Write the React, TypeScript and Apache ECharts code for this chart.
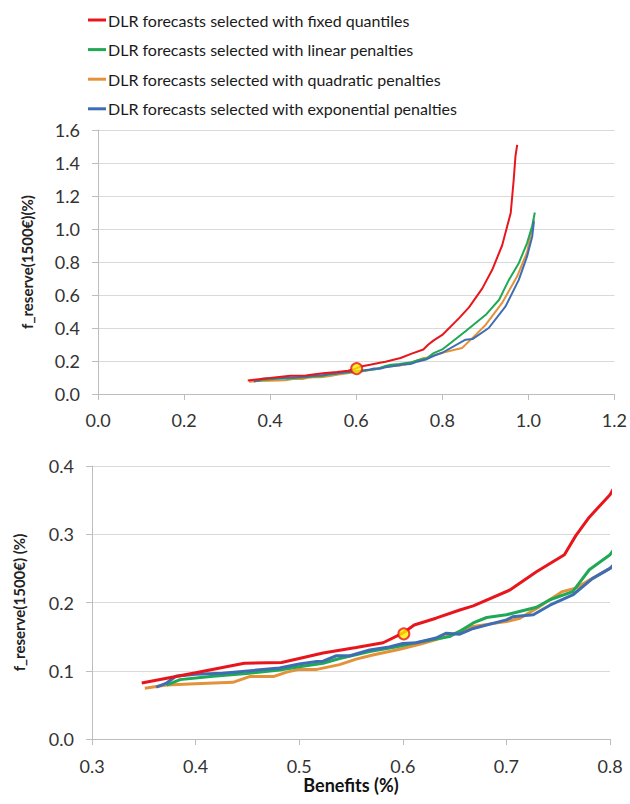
import React, { useEffect, useRef } from "react";
import * as echarts from "echarts";

const SERIES_NAMES = [
  "DLR forecasts selected with fixed quantiles",
  "DLR forecasts selected with linear penalties",
  "DLR forecasts selected with quadratic penalties",
  "DLR forecasts selected with exponential penalties",
];
const SERIES_COLORS = ["#E8161C", "#1FA855", "#E39239", "#3F6DB3"];

const fixedQuantiles: [number, number][] = [
  [0.348, 0.082], [0.4, 0.097], [0.447, 0.111], [0.483, 0.112], [0.5, 0.118],
  [0.523, 0.126], [0.555, 0.134], [0.581, 0.141], [0.6, 0.155], [0.611, 0.167],
  [0.632, 0.177], [0.655, 0.189], [0.668, 0.195], [0.703, 0.218], [0.729, 0.245],
  [0.756, 0.27], [0.767, 0.298], [0.78, 0.325], [0.8, 0.358], [0.839, 0.46],
  [0.862, 0.525], [0.893, 0.64], [0.916, 0.753], [0.939, 0.9], [0.959, 1.097],
  [0.966, 1.3], [0.97, 1.44], [0.974, 1.51],
];

const linearPenalties: [number, number][] = [
  [0.372, 0.079], [0.385, 0.087], [0.417, 0.092], [0.449, 0.096], [0.481, 0.101],
  [0.5, 0.106], [0.523, 0.111], [0.539, 0.118], [0.568, 0.128], [0.594, 0.135],
  [0.619, 0.143], [0.645, 0.15], [0.655, 0.158], [0.668, 0.17], [0.681, 0.178],
  [0.7, 0.182], [0.729, 0.193], [0.742, 0.204], [0.764, 0.216], [0.78, 0.248],
  [0.8, 0.27], [0.854, 0.38], [0.901, 0.48], [0.932, 0.571], [0.955, 0.693],
  [0.978, 0.794], [0.997, 0.915], [1.009, 1.02], [1.015, 1.1],
];

const quadraticPenalties: [number, number][] = [
  [0.351, 0.0745], [0.372, 0.079], [0.4, 0.081], [0.436, 0.083], [0.452, 0.0915],
  [0.475, 0.0915], [0.488, 0.098], [0.5, 0.102], [0.517, 0.102], [0.539, 0.109],
  [0.555, 0.117], [0.571, 0.123], [0.597, 0.1315], [0.619, 0.14], [0.642, 0.15],
  [0.655, 0.157], [0.668, 0.165], [0.7, 0.172], [0.713, 0.177], [0.732, 0.194],
  [0.754, 0.216], [0.767, 0.221], [0.78, 0.233], [0.8, 0.25], [0.846, 0.279],
  [0.862, 0.319], [0.878, 0.36], [0.901, 0.42], [0.939, 0.552], [0.974, 0.713],
  [0.997, 0.86], [1.013, 1.06],
];

const exponentialPenalties: [number, number][] = [
  [0.362, 0.076], [0.372, 0.082], [0.381, 0.092], [0.4, 0.095], [0.426, 0.0965],
  [0.459, 0.101], [0.481, 0.104], [0.5, 0.11], [0.517, 0.1135], [0.523, 0.114],
  [0.536, 0.122], [0.549, 0.122], [0.568, 0.1305], [0.587, 0.135], [0.6, 0.14],
  [0.613, 0.141], [0.632, 0.148], [0.642, 0.155], [0.655, 0.1535], [0.668, 0.162],
  [0.7, 0.1745], [0.706, 0.179], [0.726, 0.182], [0.742, 0.196], [0.764, 0.211],
  [0.783, 0.235], [0.8, 0.25], [0.854, 0.329], [0.87, 0.333], [0.908, 0.4],
  [0.947, 0.531], [0.978, 0.693], [0.997, 0.834], [1.009, 0.955], [1.013, 1.046],
];

const selectedPoint: [number, number][] = [[0.601, 0.154]];

// axis ranges: [min, max, interval]
const TOP_X_AXIS = [0, 1.2, 0.2];
const TOP_Y_AXIS = [0, 1.6, 0.2];
const BOTTOM_X_AXIS = [0.3, 0.8, 0.1];
const BOTTOM_Y_AXIS = [0, 0.4, 0.1];

const Y_NAME_TOP = "f_reserve(1500€)(%)";
const Y_NAME_BOTTOM = "f_reserve(1500€) (%)";
const X_NAME_BOTTOM = "Benefits (%)";

const FONT = "Lato, 'Noto Sans', sans-serif";

export default function App() {
  const ref = useRef<HTMLDivElement>(null);

  useEffect(() => {
    document.body.style.margin = "0";
    const chart = echarts.init(ref.current!, null, { renderer: "svg" });

    const datasets = [fixedQuantiles, linearPenalties, quadraticPenalties, exponentialPenalties];
    const drawOrder = [2, 1, 3, 0];

    const axisLabel = {
      color: "#333333",
      fontSize: 18,
      fontFamily: FONT,
      formatter: (v: number) => v.toFixed(1),
    };
    const axisLine = { show: true, lineStyle: { color: "#bdbdbd", width: 1 } };
    const axisTick = { show: true, length: 6, lineStyle: { color: "#bdbdbd" } };
    const splitLine = { show: true, lineStyle: { color: "#d9d9d9", width: 1.2 } };

    const series: any[] = [];
    [0, 1].forEach((g) => {
      drawOrder.forEach((i, k) => {
        series.push({
          name: SERIES_NAMES[i],
          type: "line",
          xAxisIndex: g,
          yAxisIndex: g,
          data: datasets[i],
          showSymbol: false,
          symbol: "none",
          smooth: false,
          clip: true,
          z: 2 + k,
          lineStyle: { color: SERIES_COLORS[i], width: g === 0 ? 2 : 3 },
          itemStyle: { color: SERIES_COLORS[i] },
        });
      });
      series.push({
        type: "scatter",
        xAxisIndex: g,
        yAxisIndex: g,
        data: selectedPoint,
        symbol: "circle",
        symbolSize: 11,
        z: 10,
        itemStyle: { color: "#FFEE00", borderColor: "#E8161C", borderWidth: 2 },
      });
    });

    chart.setOption({
      animation: false,
      backgroundColor: "#ffffff",
      legend: {
        orient: "vertical",
        left: 83,
        top: 5,
        data: SERIES_NAMES,
        icon: "rect",
        itemWidth: 18,
        itemHeight: 3,
        itemGap: 9.6,
        selectedMode: false,
        textStyle: { color: "#1a1a1a", fontSize: 16, fontFamily: FONT, lineHeight: 20, padding: [0, 0, 0, -3] },
      },
      grid: [
        { left: 98, right: 14, top: 130, height: 264 },
        { left: 92, width: 518, top: 466, height: 273 },
      ],
      xAxis: [
        {
          type: "value", gridIndex: 0,
          min: TOP_X_AXIS[0], max: TOP_X_AXIS[1], interval: TOP_X_AXIS[2],
          axisLine, axisTick, axisLabel: { ...axisLabel, margin: 17 },
          splitLine: { show: false },
        },
        {
          type: "value", gridIndex: 1,
          min: BOTTOM_X_AXIS[0], max: BOTTOM_X_AXIS[1], interval: BOTTOM_X_AXIS[2],
          axisLine, axisTick, axisLabel: { ...axisLabel, margin: 18 },
          splitLine: { show: false },
          name: X_NAME_BOTTOM, nameLocation: "middle", nameGap: 37,
          nameTextStyle: { color: "#111", fontSize: 18, fontWeight: "bold", fontFamily: FONT },
        },
      ],
      yAxis: [
        {
          type: "value", gridIndex: 0,
          min: TOP_Y_AXIS[0], max: TOP_Y_AXIS[1], interval: TOP_Y_AXIS[2],
          axisLine, axisTick, axisLabel: { ...axisLabel, margin: 18 }, splitLine,
          name: Y_NAME_TOP, nameLocation: "middle", nameGap: 64, nameRotate: 90,
          nameTextStyle: { color: "#222", fontSize: 15, fontWeight: "bold", fontFamily: FONT },
        },
        {
          type: "value", gridIndex: 1,
          min: BOTTOM_Y_AXIS[0], max: BOTTOM_Y_AXIS[1], interval: BOTTOM_Y_AXIS[2],
          axisLine, axisTick, axisLabel: { ...axisLabel, margin: 18 }, splitLine,
          name: Y_NAME_BOTTOM, nameLocation: "middle", nameGap: 66, nameRotate: 90,
          nameTextStyle: { color: "#222", fontSize: 15, fontWeight: "bold", fontFamily: FONT },
        },
      ],
      series,
    });

    return () => chart.dispose();
  }, []);

  return <div ref={ref} style={{ width: 630, height: 804 }} />;
}
